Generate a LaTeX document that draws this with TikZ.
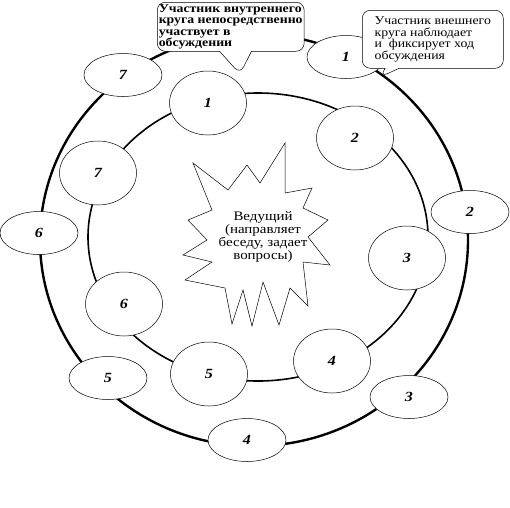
\documentclass[tikz,border=0pt]{standalone}
\usepackage{fontspec}
\setmainfont{Liberation Serif}[FakeStretch=1.15]
\usetikzlibrary{shapes.geometric,shapes.callouts}

\begin{document}
\begin{tikzpicture}[x=1pt,y=-1pt,
  seat/.style={draw,ellipse,fill=white,line width=0.5pt,inner sep=0pt,font=\fontsize{14}{14}\selectfont\bfseries\itshape},
  inseat/.style={seat,minimum width=77pt,minimum height=64pt},
  outseat/.style={seat,minimum width=78pt,minimum height=43pt},
  note/.style={rectangle callout,draw,fill=white,rounded corners=8pt,line width=0.5pt,align=left,anchor=north west,font=\fontsize{12}{11.5}\selectfont}]
\useasboundingbox (0,0) rectangle (510,507);
% the two rings
\draw[line width=2.4pt] (254,240) ellipse [x radius=214pt, y radius=206pt];
\draw[line width=1.6pt] (258,237) ellipse [x radius=170pt, y radius=144pt];
% star round the host
\draw[fill=white,line width=0.5pt] (193,163) -- (228,190) -- (247,165) -- (260,183) -- (285,143) -- (285,193)
  -- (312,188) -- (303,208) -- (328,220) -- (308,237) -- (330,265) -- (303,262) -- (308,306)
  -- (290,288) -- (279,325) -- (263,282) -- (252,326) -- (243,290) -- (232,324) -- (225,288)
  -- (185,280) -- (212,262) -- (183,255) -- (207,240) -- (188,220) -- (212,210) -- cycle;
\node[align=center,font=\fontsize{13}{11.5}\selectfont] (host) at (263,237) {Ведущий\\(направляет\\беседу, задает\\вопросы)};
% inner circle
\node[inseat] (in1) at (208,103) {1};
\node[inseat] (in2) at (355,138) {2};
\node[inseat] (in3) at (407,258) {3};
\node[inseat] (in4) at (332,361) {4};
\node[inseat] (in5) at (209,374) {5};
\node[inseat] (in6) at (124,304) {6};
\node[inseat] (in7) at (98,173) {7};
% outer circle
\node[outseat] (out1) at (346,57) {1};
\node[outseat] (out2) at (470,212) {2};
\node[outseat] (out3) at (409,397) {3};
\node[outseat] (out4) at (247,440) {4};
\node[outseat] (out5) at (108,378) {5};
\node[outseat] (out6) at (39,233) {6};
\node[outseat] (out7) at (123,75) {7};
% callouts
\node[note,minimum width=143pt,minimum height=49pt,inner xsep=1.5pt,inner ysep=2pt,callout absolute pointer={(240,74)},callout pointer width=32pt] (noteIn) at (157,2)
  {\bfseries Участник внутреннего\\\bfseries круга непосредственно\\\bfseries участвует в\\\bfseries обсуждении};
\node[note,minimum width=141pt,minimum height=58pt,inner xsep=7pt,inner ysep=5pt,callout absolute pointer={(380,77)},callout pointer width=14pt] (noteOut) at (362,10)
  {Участник внешнего\\круга наблюдает\\и \ фиксирует ход\\обсуждения};
\end{tikzpicture}
\end{document}
